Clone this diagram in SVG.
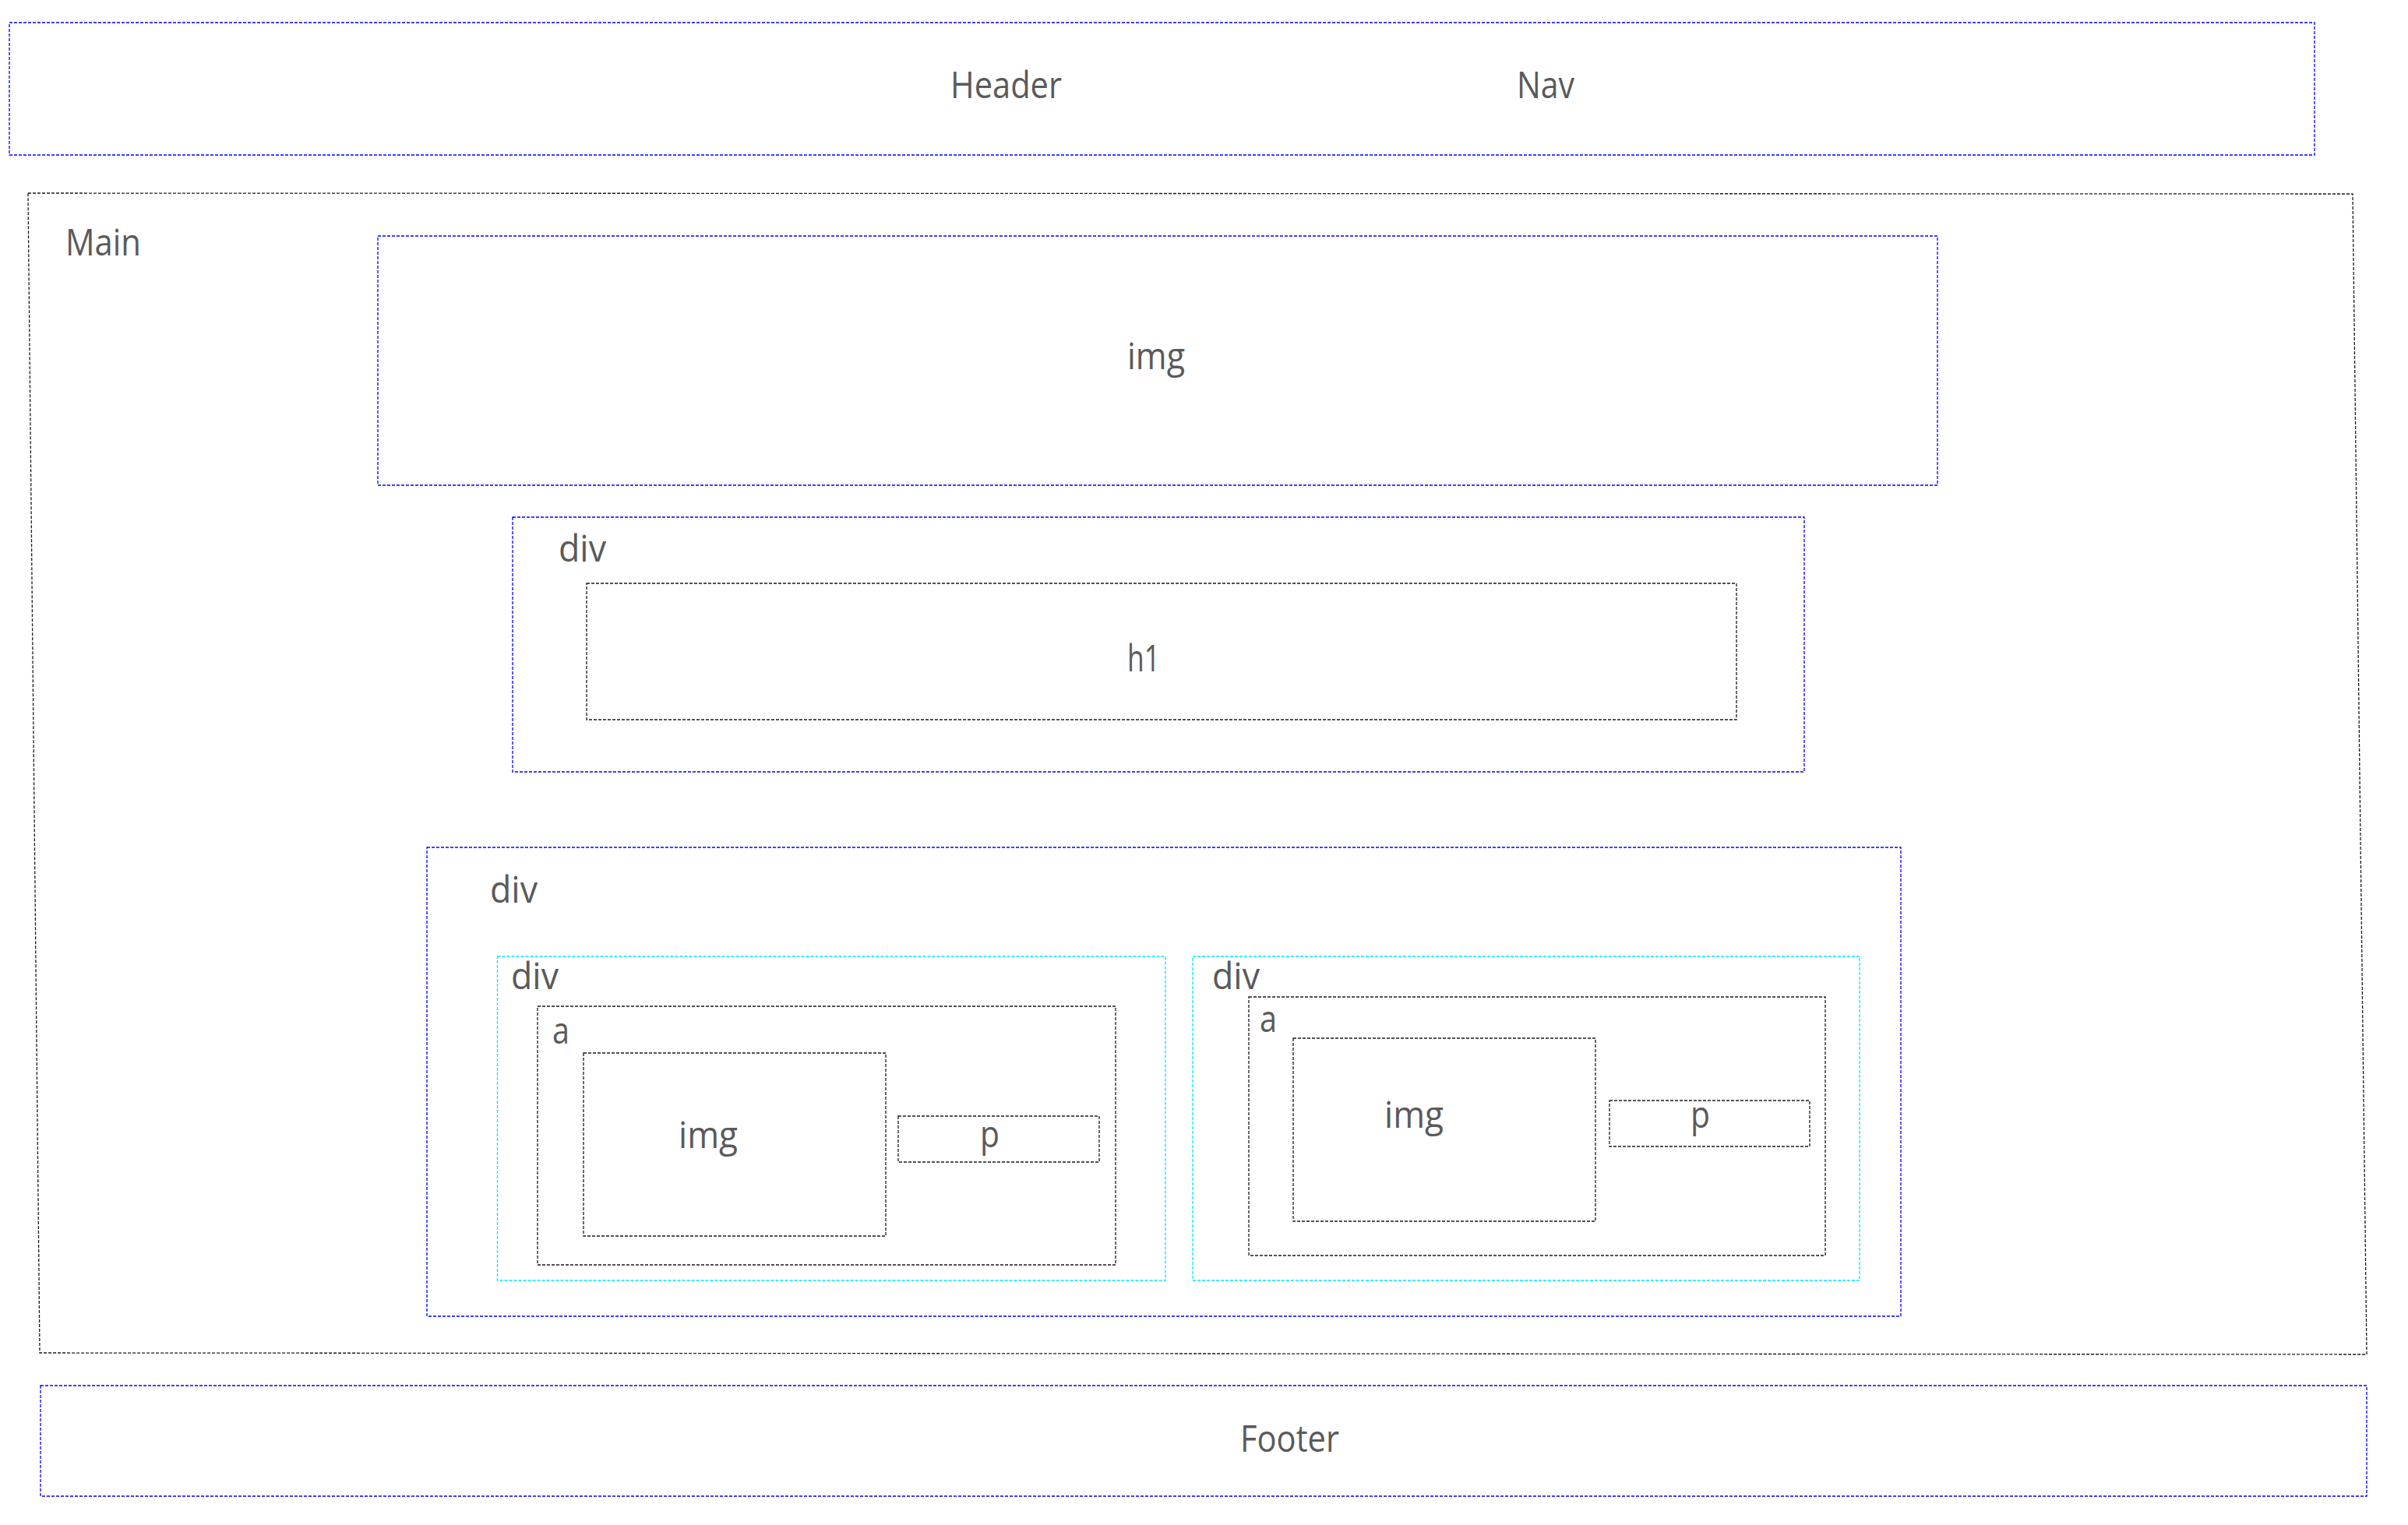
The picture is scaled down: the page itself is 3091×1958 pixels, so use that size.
<svg xmlns="http://www.w3.org/2000/svg" width="3091" height="1958" viewBox="0 0 3091 1958">
<style>
.b{fill:none;stroke:#0000ff;stroke-width:1.3;stroke-dasharray:4 2}
.k{fill:none;stroke:#1a1a1a;stroke-width:1.3;stroke-dasharray:4 2}
.c{fill:none;stroke:#00e5ff;stroke-width:1.3;stroke-dasharray:4 2}
text{font-family:"Open Sans","Noto Sans","Liberation Sans",sans-serif;font-size:47px;fill:#5a5a5a}
</style>
<rect width="3091" height="1958" fill="#ffffff"/>
<g id="header"><rect class="b" x="12" y="29" width="2959" height="170"/>
<text x="1220" y="126" textLength="143" lengthAdjust="spacingAndGlyphs">Header</text></g>
<g id="nav"><text x="1947" y="126" textLength="74" lengthAdjust="spacingAndGlyphs">Nav</text></g>
<g id="main"><polygon class="k" points="36,248 3020,249 3038,1739 51,1737"/>
<text x="84" y="328" textLength="97" lengthAdjust="spacingAndGlyphs">Main</text></g>
<g id="img-hero"><rect class="b" x="485" y="303" width="2002" height="320"/>
<text x="1447" y="474" textLength="74" lengthAdjust="spacingAndGlyphs">img</text></g>
<g id="div-title"><rect class="b" x="658" y="664" width="1658" height="327"/>
<text x="717" y="721" textLength="61" lengthAdjust="spacingAndGlyphs">div</text></g>
<g id="h1"><rect class="k" x="753" y="749" width="1476" height="175"/>
<text x="1447" y="862" textLength="42" lengthAdjust="spacingAndGlyphs">h1</text></g>
<g id="div-cards"><rect class="b" x="548" y="1088" width="1892" height="602"/>
<text x="629" y="1159" textLength="61" lengthAdjust="spacingAndGlyphs">div</text></g>
<g id="card-left"><rect class="c" x="638.5" y="1228" width="857.5" height="416"/>
<text x="656" y="1270" textLength="61" lengthAdjust="spacingAndGlyphs">div</text></g>
<g id="a-left"><rect class="k" x="690" y="1292" width="742" height="332"/>
<text x="709" y="1340" textLength="22" lengthAdjust="spacingAndGlyphs">a</text></g>
<g id="img-left"><rect class="k" x="749" y="1352" width="388" height="235"/>
<text x="871" y="1474" textLength="76" lengthAdjust="spacingAndGlyphs">img</text></g>
<g id="p-left"><rect class="k" x="1153" y="1433" width="258" height="59"/>
<text x="1258" y="1473" textLength="25" lengthAdjust="spacingAndGlyphs">p</text></g>
<g id="card-right"><rect class="c" x="1531" y="1228" width="856" height="416"/>
<text x="1556" y="1270" textLength="61" lengthAdjust="spacingAndGlyphs">div</text></g>
<g id="a-right"><rect class="k" x="1603" y="1280" width="740" height="332"/>
<text x="1617" y="1325" textLength="22" lengthAdjust="spacingAndGlyphs">a</text></g>
<g id="img-right"><rect class="k" x="1660" y="1333" width="388" height="235"/>
<text x="1777" y="1448" textLength="76" lengthAdjust="spacingAndGlyphs">img</text></g>
<g id="p-right"><rect class="k" x="2066" y="1413" width="257" height="59"/>
<text x="2170" y="1448" textLength="25" lengthAdjust="spacingAndGlyphs">p</text></g>
<g id="footer"><rect class="b" x="52" y="1779" width="2986" height="142"/>
<text x="1592" y="1864" textLength="127" lengthAdjust="spacingAndGlyphs">Footer</text></g>
<g id="connectors"></g>
</svg>
